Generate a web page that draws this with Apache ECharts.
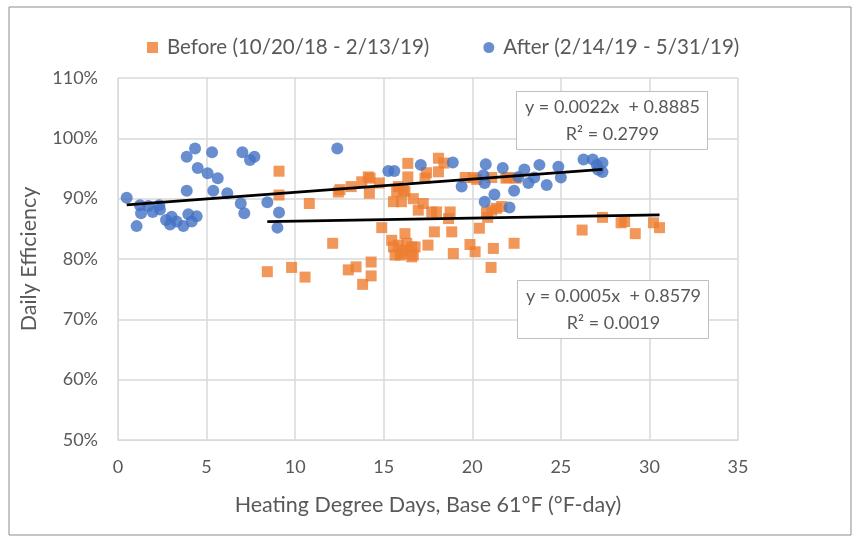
<!DOCTYPE html>
<html>
<head>
<meta charset="utf-8">
<script src="https://cdn.jsdelivr.net/npm/echarts@6/dist/echarts.min.js"></script>
<style>
  html, body { margin: 0; padding: 0; background: #fff; }
  #chart { width: 860px; height: 542px; }
</style>
</head>
<body>
<div id="chart"></div>
<script>
// Before (10/20/18 - 2/13/19): [HDD, efficiency %]
const beforeData = [
  [8.43, 77.9], [9.09, 94.55], [9.09, 90.6], [9.8, 78.6], [10.56, 77.0], [10.8, 89.2],
  [12.12, 82.6], [12.44, 91.1], [12.53, 91.5], [13.16, 92.0], [13.0, 78.2], [13.44, 78.7],
  [13.76, 92.8], [13.81, 75.8], [14.13, 93.6], [14.19, 90.9], [14.23, 93.4], [14.29, 79.5],
  [14.29, 77.2], [14.75, 92.6], [14.89, 85.2], [15.45, 83.1], [15.55, 82.0], [15.55, 89.5],
  [15.64, 80.65], [15.73, 91.15], [15.83, 82.3], [15.83, 92.0], [15.93, 80.65], [16.0, 89.5],
  [16.11, 91.4], [16.11, 81.5], [16.11, 80.9], [16.2, 84.2], [16.2, 91.15], [16.3, 82.6],
  [16.36, 95.85], [16.36, 93.6], [16.58, 82.0], [16.58, 80.35], [16.67, 90.0], [16.67, 80.65],
  [16.77, 82.0], [16.95, 88.1], [17.23, 89.2], [17.33, 93.4], [17.5, 82.3], [17.42, 94.3],
  [17.71, 87.8], [17.86, 84.5], [17.98, 87.8], [18.09, 96.7], [18.09, 94.45], [18.4, 95.9],
  [18.66, 86.7], [18.75, 87.8], [18.84, 84.5], [18.93, 80.9], [19.6, 93.5], [19.87, 82.4],
  [20.06, 93.5], [20.25, 93.2], [20.16, 81.2], [20.4, 85.1], [20.8, 87.7], [20.87, 86.9],
  [21.06, 78.6], [21.1, 88.1], [21.1, 93.5], [21.19, 81.75], [21.37, 88.4], [21.66, 88.7],
  [21.9, 93.4], [22.03, 93.5], [22.36, 82.6], [22.47, 93.4], [26.2, 84.8], [27.35, 86.9],
  [28.4, 86.0], [28.6, 86.2], [29.2, 84.2], [30.23, 86.0], [30.57, 85.2]
];

// After (2/14/19 - 5/31/19): [HDD, efficiency %]
const afterData = [
  [0.49, 90.15], [1.05, 85.45], [1.24, 88.9], [1.3, 87.6], [1.71, 88.8], [1.96, 87.8],
  [2.33, 88.9], [2.37, 88.2], [2.71, 86.45], [3.03, 87.0], [2.94, 85.7], [3.31, 86.2],
  [3.69, 85.45], [3.97, 87.4], [4.16, 86.2], [4.44, 87.1], [3.88, 91.3], [3.88, 96.95],
  [4.35, 98.3], [4.5, 95.1], [5.06, 94.2], [5.31, 97.7], [5.63, 93.4], [5.38, 91.3],
  [6.17, 90.9], [7.02, 97.7], [7.45, 96.4], [7.7, 96.95], [6.93, 89.2], [7.13, 87.6],
  [8.43, 89.4], [9.09, 87.7], [9.0, 85.2], [12.38, 98.3], [15.26, 94.6], [15.6, 94.6],
  [17.09, 95.6], [18.9, 96.0], [19.4, 92.0], [20.76, 95.7], [20.63, 93.9], [20.7, 92.6],
  [21.25, 90.7], [20.7, 89.5], [21.72, 95.1], [22.1, 88.55], [22.36, 91.3], [22.6, 93.6],
  [22.94, 94.85], [23.17, 92.6], [23.5, 93.5], [23.79, 95.6], [24.2, 92.25], [24.86, 95.3],
  [25.0, 93.5], [26.28, 96.5], [26.8, 96.5], [27.03, 95.6], [27.35, 95.95], [27.35, 94.4],
  [27.1, 94.8]
];

// Trendline coefficients as printed on the chart
const afterFit = { slope: 0.0022, intercept: 0.8885, r2: '0.2799' };
const beforeFit = { slope: 0.0005, intercept: 0.8579, r2: '0.0019' };

const xTicks = [0, 5, 10, 15, 20, 25, 30, 35];

function trend(data, fit) {
  const xs = data.map(d => d[0]);
  const lo = Math.min(...xs), hi = Math.max(...xs);
  return [lo, hi].map(x => [x, (fit.slope * x + fit.intercept) * 100]);
}

const FONT = 'Lato, "Open Sans", sans-serif';
const GREY = '#595959';

function eqBox(left, top, line1, line2) {
  return {
    type: 'group',
    left: left,
    top: top,
    children: [
      { type: 'rect', z: 100, shape: { x: 0, y: 0, width: 191, height: 58 },
        style: { fill: '#fff', stroke: '#bfbfbf', lineWidth: 1 } },
      { type: 'text', z: 101, x: 96, y: 16,
        style: { text: line1, fontSize: 18, fontFamily: FONT,
                 fill: GREY, align: 'center', verticalAlign: 'middle' } },
      { type: 'text', z: 101, x: 96, y: 43,
        style: { text: line2, fontSize: 18, fontFamily: FONT,
                 fill: GREY, align: 'center', verticalAlign: 'middle' } }
    ]
  };
}

const chart = echarts.init(document.getElementById('chart'));

chart.setOption({
  backgroundColor: '#fff',
  animation: false,
  textStyle: { fontFamily: FONT, color: GREY },
  legend: {
    data: [
      { name: 'Before (10/20/18 - 2/13/19)', icon: 'rect' },
      { name: 'After (2/14/19 - 5/31/19)', icon: 'circle' }
    ],
    left: 142,
    top: 32,
    itemWidth: 11,
    itemHeight: 11,
    itemGap: 54,
    textStyle: { fontSize: 20.5, color: GREY, fontFamily: FONT, padding: [0, 0, 0, 4] }
  },
  grid: { left: 118, top: 78, width: 620, height: 362 },
  xAxis: {
    type: 'value',
    min: xTicks[0],
    max: xTicks[xTicks.length - 1],
    interval: 5,
    name: 'Heating Degree Days, Base 61°F (°F-day)',
    nameLocation: 'middle',
    nameGap: 54,
    nameTextStyle: { fontSize: 21.5, color: GREY, fontFamily: FONT },
    axisLine: { show: true, lineStyle: { color: '#d9d9d9' } },
    axisTick: { show: false },
    splitLine: { show: true, lineStyle: { color: '#d9d9d9', width: 1.5 } },
    axisLabel: { fontSize: 18, color: GREY, margin: 18, fontFamily: FONT }
  },
  yAxis: {
    type: 'value',
    min: 50,
    max: 110,
    interval: 10,
    name: 'Daily Efficiency',
    nameLocation: 'middle',
    nameGap: 78,
    nameTextStyle: { fontSize: 21.5, color: GREY, fontFamily: FONT },
    axisLine: { show: true, lineStyle: { color: '#d9d9d9' } },
    axisTick: { show: false },
    splitLine: { show: true, lineStyle: { color: '#d9d9d9', width: 1.5 } },
    axisLabel: { fontSize: 18, color: GREY, margin: 20, formatter: '{value}%', fontFamily: FONT }
  },
  series: [
    {
      name: 'Before (10/20/18 - 2/13/19)',
      type: 'scatter',
      symbol: 'rect',
      symbolSize: 11,
      itemStyle: { color: '#ED7D31' },
      data: beforeData
    },
    {
      name: 'After (2/14/19 - 5/31/19)',
      type: 'scatter',
      symbol: 'circle',
      symbolSize: 12,
      itemStyle: { color: '#4472C4' },
      data: afterData
    },
    {
      name: 'after-trend',
      type: 'line',
      symbol: 'none',
      lineStyle: { color: '#000', width: 2.75 },
      data: trend(afterData, afterFit),
      z: 5
    },
    {
      name: 'before-trend',
      type: 'line',
      symbol: 'none',
      lineStyle: { color: '#000', width: 2.75 },
      data: trend(beforeData, beforeFit),
      z: 5
    }
  ],
  graphic: [
    {
      type: 'rect',
      shape: { x: 9, y: 7, width: 842, height: 528 },
      style: { fill: 'none', stroke: '#8c8c8c', lineWidth: 1 },
      silent: true
    },
    eqBox(516, 91, 'y = 0.0022x  + 0.8885', 'R² = ' + afterFit.r2),
    eqBox(517, 280, 'y = 0.0005x  + 0.8579', 'R² = ' + beforeFit.r2)
  ]
});
</script>
</body>
</html>
